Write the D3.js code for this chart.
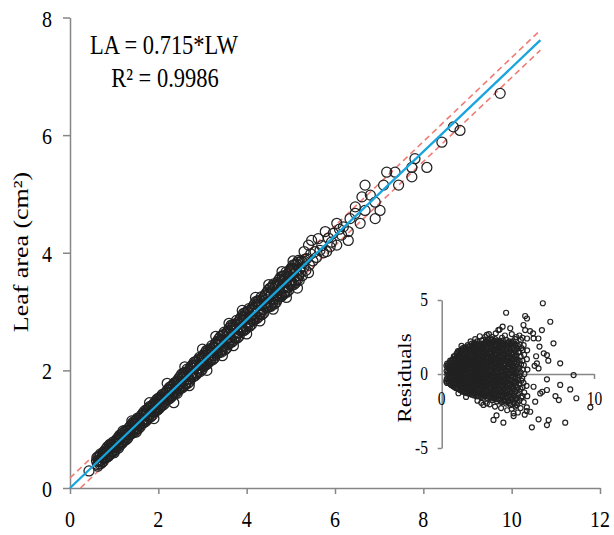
<!DOCTYPE html>
<html><head><meta charset="utf-8">
<script src="https://cdn.jsdelivr.net/npm/d3@7"></script>
<style>body{margin:0;background:#fff}svg{display:block}</style>
</head><body>
<svg id="c" width="614" height="535"></svg>
<script>
// ---------- data ----------
const xTicks = [0, 2, 4, 6, 8, 10, 12];
const yTicks = [0, 2, 4, 6, 8];
const fitSlope = 0.715;
const fitEndLW = 10.65;
const bandHalf = 0.17;
const eqText = "LA = 0.715*LW";
const r2Text = "R\u00B2 = 0.9986";
const yLabel = "Leaf area (cm\u00B2)";
const insetXTicks = [0, 10];
const insetYTicks = [-5, 0, 5];
const insetYLabel = "Residuals";

// [LW, LA] – main band, first pass
const leafPointsA = [
[0.43,0.29],
[0.60,0.46],[0.62,0.40],[0.64,0.47],[0.66,0.45],[0.68,0.54],[0.70,0.47],[0.72,0.52],
[0.74,0.51],[0.76,0.58],[0.78,0.51],[0.80,0.59],[0.82,0.58],[0.84,0.63],[0.86,0.58],
[0.88,0.67],[0.90,0.63],[0.92,0.68],[0.94,0.62],[0.96,0.72],[0.98,0.70],[1.00,0.69],
[1.02,0.69],[1.04,0.76],[1.06,0.81],[1.08,0.76],[1.10,0.76],[1.12,0.84],[1.14,0.83],
[1.16,0.87],[1.18,0.79],[1.20,0.87],[1.22,0.85],[1.24,0.95],[1.26,0.86],[1.28,0.92],
[1.30,0.91],[1.32,0.99],[1.34,0.90],[1.36,0.99],[1.38,0.98],[1.40,1.04],[1.42,0.97],
[1.44,1.09],[1.46,1.02],[1.48,1.09],[1.50,1.00],[1.52,1.13],[1.54,1.10],[1.56,1.07],
[1.58,1.07],[1.60,1.17],[1.62,1.23],[1.64,1.15],[1.66,1.15],[1.68,1.26],[1.70,1.23],
[1.72,1.27],[1.74,1.18],[1.76,1.28],[1.78,1.24],[1.80,1.36],[1.82,1.26],[1.84,1.32],
[1.86,1.30],[1.88,1.40],[1.90,1.29],[1.92,1.40],[1.94,1.37],[1.96,1.44],[1.98,1.36],
[2.00,1.49],[2.02,1.42],[2.04,1.49],[2.06,1.40],[2.08,1.53],[2.10,1.50],[2.12,1.47],
[2.14,1.47],[2.16,1.57],[2.18,1.63],[2.20,1.55],[2.22,1.55],[2.24,1.66],[2.26,1.63],
[2.28,1.68],[2.30,1.57],[2.32,1.68],[2.34,1.63],[2.36,1.78],[2.38,1.65],[2.40,1.72],
[2.42,1.69],[2.44,1.82],[2.46,1.66],[2.48,1.81],[2.50,1.77],[2.52,1.86],[2.54,1.74],
[2.56,1.91],[2.58,1.82],[2.60,1.90],[2.62,1.77],[2.64,1.95],[2.66,1.90],[2.68,1.86],
[2.70,1.85],[2.72,1.98],[2.74,2.06],[2.76,1.95],[2.78,1.93],[2.80,2.08],[2.82,2.04],
[2.84,2.09],[2.86,1.96],[2.88,2.08],[2.90,2.03],[2.92,2.19],[2.94,2.04],[2.96,2.12],
[2.98,2.09],[3.00,2.22],[3.02,2.06],[3.04,2.21],[3.06,2.17],[3.08,2.26],[3.10,2.14],
[3.12,2.31],[3.14,2.22],[3.16,2.30],[3.18,2.17],[3.20,2.35],[3.22,2.30],[3.24,2.26],
[3.26,2.25],[3.28,2.38],[3.30,2.46],[3.32,2.35],[3.34,2.33],[3.36,2.48],[3.38,2.44],
[3.40,2.51],[3.42,2.34],[3.44,2.49],[3.46,2.42],[3.48,2.61],[3.50,2.42],[3.52,2.52],
[3.54,2.48],[3.56,2.64],[3.58,2.44],[3.60,2.62],[3.62,2.56],[3.64,2.68],[3.66,2.52],
[3.68,2.73],[3.70,2.61],[3.72,2.71],[3.74,2.55],[3.76,2.77],[3.78,2.70],[3.80,2.64],
[3.82,2.63],[3.84,2.79],[3.86,2.88],[3.88,2.74],[3.90,2.71],[3.92,2.90],[3.94,2.85],
[3.96,2.91],[3.98,2.74],[4.00,2.89],[4.02,2.82],[4.04,3.01],[4.06,2.82],[4.08,2.92],
[4.10,2.88],[4.12,3.04],[4.14,2.84],[4.16,3.02],[4.18,2.96],[4.20,3.08],[4.22,2.92],
[4.24,3.13],[4.26,3.01],[4.28,3.11],[4.30,2.95],[4.32,3.17],[4.34,3.10],[4.36,3.04],
[4.38,3.03],[4.40,3.19],[4.42,3.28],[4.44,3.14],[4.46,3.11],[4.48,3.30],[4.50,3.25],
[4.52,3.32],[4.54,3.12],[4.56,3.29],[4.58,3.21],[4.60,3.44],[4.62,3.21],[4.64,3.32],
[4.66,3.27],[4.68,3.46],[4.70,3.21],[4.72,3.43],[4.74,3.36],[4.76,3.49],[4.78,3.30],
[4.80,3.55],[4.82,3.41],[4.84,3.52],[4.86,3.32],[4.88,3.58],[4.90,3.50],[4.92,3.43],
[4.94,3.41],[4.96,3.60],[4.98,3.71],[5.00,3.54],[5.02,3.50],[5.04,3.72],[5.06,3.65],
[5.08,3.72],[5.10,3.52],[5.12,3.69],[5.14,3.61],[5.16,3.84],[5.18,3.61],[5.20,3.72],
[5.22,3.67],[5.24,3.86],[5.26,3.61],[5.28,3.83],[5.30,3.76],[5.32,3.89],[5.34,3.70]
];
// [LW, LA] – main band, outer rows
const leafPointsB = [
[0.61,0.52],[0.63,0.37],[0.65,0.54],[0.67,0.41],[0.69,0.58],[0.71,0.42],[0.73,0.58],
[0.75,0.45],[0.77,0.62],[0.79,0.51],[0.81,0.66],[0.83,0.52],[0.85,0.70],[0.87,0.54],
[0.89,0.72],[0.91,0.57],[0.93,0.74],[0.95,0.61],[0.97,0.78],[0.99,0.62],[1.01,0.78],
[1.03,0.65],[1.05,0.82],[1.07,0.71],[1.09,0.86],[1.11,0.72],[1.13,0.90],[1.15,0.74],
[1.17,0.92],[1.19,0.77],[1.21,0.94],[1.23,0.81],[1.25,0.98],[1.27,0.82],[1.29,0.98],
[1.31,0.85],[1.33,1.02],[1.35,0.91],[1.37,1.06],[1.39,0.92],[1.41,1.10],[1.43,0.94],
[1.45,1.13],[1.47,0.96],[1.49,1.15],[1.51,1.00],[1.53,1.19],[1.55,1.01],[1.57,1.19],
[1.59,1.04],[1.61,1.23],[1.63,1.10],[1.65,1.27],[1.67,1.11],[1.69,1.31],[1.71,1.13],
[1.73,1.33],[1.75,1.16],[1.77,1.35],[1.79,1.20],[1.81,1.39],[1.83,1.21],[1.85,1.39],
[1.87,1.24],[1.89,1.43],[1.91,1.30],[1.93,1.47],[1.95,1.31],[1.97,1.51],[1.99,1.33],
[2.01,1.53],[2.03,1.36],[2.05,1.55],[2.07,1.40],[2.09,1.59],[2.11,1.41],[2.13,1.59],
[2.15,1.44],[2.17,1.63],[2.19,1.50],[2.21,1.67],[2.23,1.51],[2.25,1.71],[2.27,1.53],
[2.29,1.73],[2.31,1.56],[2.33,1.75],[2.35,1.60],[2.37,1.79],[2.39,1.61],[2.41,1.79],
[2.43,1.61],[2.45,1.85],[2.47,1.69],[2.49,1.89],[2.51,1.69],[2.53,1.94],[2.55,1.71],
[2.57,1.95],[2.59,1.74],[2.61,1.97],[2.63,1.78],[2.65,2.02],[2.67,1.78],[2.69,2.00],
[2.71,1.81],[2.73,2.05],[2.75,1.89],[2.77,2.09],[2.79,1.89],[2.81,2.14],[2.83,1.91],
[2.85,2.15],[2.87,1.94],[2.89,2.17],[2.91,1.98],[2.93,2.22],[2.95,1.98],[2.97,2.20],
[2.99,2.01],[3.01,2.25],[3.03,2.09],[3.05,2.29],[3.07,2.09],[3.09,2.34],[3.11,2.11],
[3.13,2.35],[3.15,2.14],[3.17,2.37],[3.19,2.18],[3.21,2.42],[3.23,2.18],[3.25,2.40],
[3.27,2.21],[3.29,2.45],[3.31,2.29],[3.33,2.49],[3.35,2.29],[3.37,2.54],[3.39,2.31],
[3.41,2.58],[3.43,2.31],[3.45,2.59],[3.47,2.36],[3.49,2.65],[3.51,2.35],[3.53,2.62],
[3.55,2.38],[3.57,2.67],[3.59,2.47],[3.61,2.72],[3.63,2.47],[3.65,2.77],[3.67,2.48],
[3.69,2.78],[3.71,2.51],[3.73,2.79],[3.75,2.56],[3.77,2.85],[3.79,2.55],[3.81,2.82],
[3.83,2.58],[3.85,2.87],[3.87,2.67],[3.89,2.92],[3.91,2.67],[3.93,2.97],[3.95,2.68],
[3.97,2.98],[3.99,2.71],[4.01,2.99],[4.03,2.76],[4.05,3.05],[4.07,2.75],[4.09,3.02],
[4.11,2.78],[4.13,3.07],[4.15,2.87],[4.17,3.12],[4.19,2.87],[4.21,3.17],[4.23,2.88],
[4.25,3.18],[4.27,2.91],[4.29,3.19],[4.31,2.96],[4.33,3.25],[4.35,2.95],[4.37,3.22],
[4.39,2.98],[4.41,3.27],[4.43,3.07],[4.45,3.32],[4.47,3.07],[4.49,3.37],[4.51,3.08],
[4.53,3.40],[4.55,3.09],[4.57,3.41],[4.59,3.14],[4.61,3.47],[4.63,3.13],[4.65,3.44],
[4.67,3.16],[4.69,3.49],[4.71,3.25],[4.73,3.54],[4.75,3.25],[4.77,3.59],[4.79,3.26],
[4.81,3.60],[4.83,3.29],[4.85,3.61],[4.87,3.34],[4.89,3.67],[4.91,3.33],[4.93,3.64],
[4.95,3.36],[4.97,3.69],[4.99,3.45],[5.01,3.74],[5.03,3.45],[5.05,3.79],[5.07,3.46],
[5.09,3.80],[5.11,3.49],[5.13,3.81],[5.15,3.54],[5.17,3.87],[5.19,3.53],[5.21,3.84]
];
// [LW, LA] – band-edge outliers
const leafPointsEdge = [
[0.90,0.74],[1.00,0.60],[1.20,0.97],[1.10,0.68],[1.40,1.14],[1.50,0.95],[1.80,1.45],[1.90,1.18],
[2.20,1.78],[2.35,1.45],[2.60,2.06],[2.70,1.74],[3.00,2.36],[3.10,2.00],[3.30,2.58],[3.45,2.25],
[3.60,2.80],[3.70,2.42],[3.90,3.02],[4.00,2.62],[4.20,3.24],[4.30,2.84],[4.50,3.46],[4.60,3.04],
[4.80,3.68],[4.90,3.24],[5.05,3.86],[5.15,3.40],[5.30,4.02],[5.40,3.66]
];
// [LW, LA] – upper, sparse part
const leafPointsC = [
[5.36,3.90],[5.42,3.79],[5.45,3.98],[5.50,3.86],[5.55,4.02],[5.58,3.92],[5.70,4.12],
[5.74,4.00],[5.85,4.25],[5.92,4.18],[6.10,4.40],[6.15,4.30],
[7.81,5.60],[7.74,5.45],[8.08,5.45],[7.17,5.37],[7.36,5.37],[7.44,5.15],[7.74,5.29],
[7.10,5.15],[6.68,5.15],[6.61,4.95],[6.80,4.98],[6.91,4.86],[6.46,4.78],[6.46,4.67],
[7.02,4.72],[6.91,4.58],[6.68,4.72],[6.34,4.58],[6.57,4.50],[6.19,4.44],[6.04,4.50],
[5.78,4.36],[5.96,4.33],[6.30,4.36],[5.62,4.24],[5.47,4.21],[5.40,4.13],[5.66,4.04],
[6.30,4.21],[6.04,4.13],[5.89,4.10],[5.81,4.02],
[9.74,6.71],[8.68,6.14],[8.83,6.08],[8.42,5.88]
];

// [LW, residual]
const residualPointsA = [
[0.33,-0.35],[0.37,-0.05],[0.32,0.2],[0.38,0.45],[0.30,-0.5],[0.31,0.55],[0.36,0.7],[0.35,-0.6],
[0.48,-0.6],[0.52,-0.3],[0.47,0.0],[0.53,0.25],[0.49,0.5],[0.51,0.75],
[0.63,-0.75],[0.67,-0.5],[0.62,-0.2],[0.68,0.05],[0.64,0.3],[0.66,0.55],[0.63,0.85],
[0.78,-0.85],[0.82,-0.6],[0.77,-0.35],[0.83,-0.1],[0.79,0.15],[0.81,0.4],[0.78,0.65],[0.84,0.95],[0.8,1.2],
[0.93,-0.95],[0.97,-0.7],[0.92,-0.45],[0.98,-0.2],[0.94,0.05],[0.96,0.3],[0.93,0.55],[0.99,0.8],[0.95,1.05],[0.97,1.35],
[1.08,-1.0],[1.12,-0.75],[1.07,-0.5],[1.13,-0.25],[1.09,0.0],[1.11,0.25],[1.08,0.5],[1.14,0.75],[1.1,1.0],[1.12,1.3],[1.07,1.55],
[1.23,-1.1],[1.27,-0.85],[1.22,-0.6],[1.28,-0.35],[1.24,-0.1],[1.26,0.15],[1.23,0.4],[1.29,0.65],[1.25,0.9],[1.27,1.15],[1.22,1.4],[1.28,1.65],
[1.38,-1.2],[1.42,-0.95],[1.37,-0.7],[1.43,-0.45],[1.39,-0.2],[1.41,0.05],[1.38,0.3],[1.44,0.55],[1.4,0.8],[1.42,1.05],[1.37,1.3],[1.43,1.55],[1.39,1.75],
[1.53,-1.25],[1.57,-1.0],[1.52,-0.75],[1.58,-0.5],[1.54,-0.25],[1.56,0.0],[1.53,0.25],[1.59,0.5],[1.55,0.75],[1.57,1.0],[1.52,1.25],[1.58,1.5],[1.54,1.8],
[1.68,-1.3],[1.72,-1.05],[1.67,-0.8],[1.73,-0.55],[1.69,-0.3],[1.71,-0.05],[1.68,0.2],[1.74,0.45],[1.7,0.7],[1.72,0.95],[1.67,1.2],[1.73,1.45],[1.69,1.7],[1.71,1.95],
[1.83,-1.35],[1.87,-1.1],[1.82,-0.85],[1.88,-0.6],[1.84,-0.35],[1.86,-0.1],[1.83,0.15],[1.89,0.4],[1.85,0.65],[1.87,0.9],[1.82,1.15],[1.88,1.4],[1.84,1.65],[1.86,1.9],
[1.98,-1.4],[2.02,-1.15],[1.97,-0.9],[2.03,-0.65],[1.99,-0.4],[2.01,-0.15],[1.98,0.1],[2.04,0.35],[2.0,0.6],[2.02,0.85],[1.97,1.1],[2.03,1.35],[1.99,1.6],[2.01,1.85],[1.98,2.05],
[2.13,-1.45],[2.17,-1.2],[2.12,-0.95],[2.18,-0.7],[2.14,-0.45],[2.16,-0.2],[2.13,0.05],[2.19,0.3],[2.15,0.55],[2.17,0.8],[2.12,1.05],[2.18,1.3],[2.14,1.55],[2.16,1.8],[2.13,2.1],
[2.28,-1.5],[2.32,-1.25],[2.27,-1.0],[2.33,-0.75],[2.29,-0.5],[2.31,-0.25],[2.28,0.0],[2.34,0.25],[2.3,0.5],[2.32,0.75],[2.27,1.0],[2.33,1.25],[2.29,1.5],[2.31,1.75],[2.28,2.0],[2.33,2.2],
[2.43,-1.5],[2.47,-1.25],[2.42,-1.0],[2.48,-0.75],[2.44,-0.5],[2.46,-0.25],[2.43,0.0],[2.49,0.25],[2.45,0.5],[2.47,0.75],[2.42,1.0],[2.48,1.25],[2.44,1.5],[2.46,1.8],[2.43,2.05],
[2.58,-1.55],[2.62,-1.3],[2.57,-1.05],[2.63,-0.8],[2.59,-0.55],[2.61,-0.3],[2.58,-0.05],[2.64,0.2],[2.6,0.45],[2.62,0.7],[2.57,0.95],[2.63,1.2],[2.59,1.45],[2.61,1.7],[2.58,1.95],[2.63,2.25],
[2.73,-1.6],[2.77,-1.3],[2.72,-1.0],[2.78,-0.7],[2.74,-0.45],[2.76,-0.15],[2.73,0.1],[2.79,0.4],[2.75,0.65],[2.77,0.95],[2.72,1.2],[2.78,1.5],[2.74,1.75],[2.76,2.05],[2.73,2.3],
[2.88,-1.4],[2.92,-1.1],[2.87,-0.8],[2.93,-0.55],[2.89,-0.25],[2.91,0.0],[2.88,0.3],[2.94,0.55],[2.9,0.85],[2.92,1.1],[2.87,1.4],[2.93,1.65],[2.89,1.95],[2.91,2.2],
[3.03,-1.65],[3.07,-1.35],[3.02,-1.05],[3.08,-0.75],[3.04,-0.45],[3.06,-0.15],[3.03,0.15],[3.09,0.45],[3.05,0.75],[3.07,1.05],[3.02,1.35],[3.08,1.65],[3.04,1.95],[3.06,2.3],
[3.18,-1.5],[3.22,-1.2],[3.17,-0.9],[3.23,-0.6],[3.19,-0.3],[3.21,0.0],[3.18,0.3],[3.24,0.6],[3.2,0.9],[3.22,1.2],[3.17,1.5],[3.23,1.8],[3.19,2.1],[3.21,2.4],
[3.33,-1.75],[3.37,-1.45],[3.32,-1.15],[3.38,-0.85],[3.34,-0.55],[3.36,-0.25],[3.33,0.05],[3.39,0.35],[3.35,0.65],[3.37,0.95],[3.32,1.25],[3.38,1.55],[3.34,1.85],[3.36,2.15],
[3.48,-1.6],[3.52,-1.3],[3.47,-1.0],[3.53,-0.7],[3.49,-0.4],[3.51,-0.1],[3.48,0.2],[3.54,0.5],[3.5,0.8],[3.52,1.1],[3.47,1.4],[3.53,1.7],[3.49,2.0],[3.51,2.35],
[3.63,-1.85],[3.67,-1.5],[3.62,-1.15],[3.68,-0.85],[3.64,-0.55],[3.66,-0.25],[3.63,0.05],[3.69,0.4],[3.65,0.7],[3.67,1.0],[3.62,1.3],[3.68,1.6],[3.64,1.9],[3.66,2.2],
[3.78,-1.7],[3.82,-1.35],[3.77,-1.0],[3.83,-0.7],[3.79,-0.35],[3.81,-0.05],[3.78,0.3],[3.84,0.6],[3.8,0.95],[3.82,1.25],[3.77,1.6],[3.83,1.9],[3.79,2.25],
[3.93,-1.9],[3.97,-1.55],[3.92,-1.2],[3.98,-0.85],[3.94,-0.5],[3.96,-0.2],[3.93,0.15],[3.99,0.45],[3.95,0.8],[3.97,1.1],[3.92,1.45],[3.98,1.75],[3.94,2.1],[3.96,2.45],
[4.08,-1.75],[4.12,-1.4],[4.07,-1.05],[4.13,-0.7],[4.09,-0.35],[4.11,0.0],[4.08,0.35],[4.14,0.7],[4.1,1.05],[4.12,1.4],[4.07,1.75],[4.13,2.05],
[4.23,-2.0],[4.27,-1.6],[4.22,-1.25],[4.28,-0.9],[4.24,-0.55],[4.26,-0.2],[4.23,0.15],[4.29,0.5],[4.25,0.85],[4.27,1.2],[4.22,1.55],[4.28,1.9],[4.24,2.3],
[4.38,-1.8],[4.42,-1.45],[4.37,-1.1],[4.43,-0.7],[4.39,-0.35],[4.41,0.05],[4.38,0.4],[4.44,0.75],[4.4,1.1],[4.42,1.5],[4.37,1.85],[4.43,2.2],
[4.53,-2.1],[4.57,-1.65],[4.52,-1.25],[4.58,-0.85],[4.54,-0.45],[4.56,-0.1],[4.53,0.3],[4.59,0.7],[4.55,1.05],[4.57,1.45],[4.52,1.8],[4.58,2.15],
[4.68,-1.9],[4.72,-1.45],[4.67,-1.0],[4.73,-0.6],[4.69,-0.2],[4.71,0.2],[4.68,0.6],[4.74,1.0],[4.7,1.4],[4.72,1.8],[4.67,2.2],
[4.83,-2.2],[4.87,-1.7],[4.82,-1.2],[4.88,-0.75],[4.84,-0.3],[4.86,0.15],[4.83,0.55],[4.89,1.0],[4.85,1.45],[4.87,1.9],[4.82,2.35],
[4.98,-1.95],[5.02,-1.4],[4.97,-0.9],[5.03,-0.4],[4.99,0.05],[5.01,0.5],[4.98,0.95],[5.04,1.45],[5.0,1.9],
[5.18,-2.3],[5.22,-1.6],[5.17,-1.0],[5.23,-0.45],[5.19,0.1],[5.21,0.65],[5.18,1.2],[5.24,1.75],[5.2,2.3],
[5.38,-1.9],[5.42,-1.25],[5.37,-0.6],[5.43,0.0],[5.39,0.6],[5.41,1.3],[5.38,1.95],
[5.58,-2.5],[5.62,-1.5],[5.57,-0.8],[5.63,0.3],[5.59,1.0],[5.61,1.6]
];
// [LW, residual] – in-between columns of the dense core
const residualPointsB = [
[0.42,-0.45],[0.43,-0.2],[0.41,0.1],[0.44,0.35],[0.42,0.6],
[0.57,-0.7],[0.58,-0.45],[0.56,-0.15],[0.59,0.1],[0.57,0.4],[0.58,0.65],[0.56,0.9],
[0.72,-0.8],[0.73,-0.55],[0.71,-0.25],[0.74,0.0],[0.72,0.25],[0.73,0.5],[0.71,0.75],[0.74,1.0],
[0.87,-0.9],[0.88,-0.6],[0.86,-0.3],[0.89,-0.05],[0.87,0.2],[0.88,0.45],[0.86,0.7],[0.89,0.95],[0.87,1.2],
[1.02,-0.95],[1.03,-0.65],[1.01,-0.35],[1.04,-0.1],[1.02,0.15],[1.03,0.4],[1.01,0.65],[1.04,0.9],[1.02,1.2],[1.03,1.45],
[1.17,-1.05],[1.18,-0.75],[1.16,-0.45],[1.19,-0.2],[1.17,0.05],[1.18,0.3],[1.16,0.55],[1.19,0.8],[1.17,1.05],[1.18,1.3],[1.16,1.55],
[1.32,-1.1],[1.33,-0.8],[1.31,-0.5],[1.34,-0.25],[1.32,0.0],[1.33,0.25],[1.31,0.5],[1.34,0.75],[1.32,1.0],[1.33,1.3],[1.31,1.55],
[1.47,-1.15],[1.48,-0.85],[1.46,-0.55],[1.49,-0.3],[1.47,-0.05],[1.48,0.2],[1.46,0.45],[1.49,0.7],[1.47,0.95],[1.48,1.2],[1.46,1.45],[1.49,1.7],
[1.62,-1.2],[1.63,-0.9],[1.61,-0.6],[1.64,-0.35],[1.62,-0.1],[1.63,0.15],[1.61,0.4],[1.64,0.65],[1.62,0.9],[1.63,1.15],[1.61,1.4],[1.64,1.65],
[1.77,-1.25],[1.78,-0.95],[1.76,-0.65],[1.79,-0.4],[1.77,-0.15],[1.78,0.1],[1.76,0.35],[1.79,0.6],[1.77,0.85],[1.78,1.1],[1.76,1.35],[1.79,1.6],[1.77,1.85],
[1.92,-1.3],[1.93,-1.0],[1.91,-0.7],[1.94,-0.45],[1.92,-0.2],[1.93,0.05],[1.91,0.3],[1.94,0.55],[1.92,0.8],[1.93,1.05],[1.91,1.3],[1.94,1.55],[1.92,1.8],
[2.07,-1.3],[2.08,-1.0],[2.06,-0.75],[2.09,-0.5],[2.07,-0.25],[2.08,0.0],[2.06,0.25],[2.09,0.5],[2.07,0.75],[2.08,1.0],[2.06,1.25],[2.09,1.5],[2.07,1.75],[2.08,1.95],
[2.22,-1.35],[2.23,-1.05],[2.21,-0.8],[2.24,-0.55],[2.22,-0.3],[2.23,-0.05],[2.21,0.2],[2.24,0.45],[2.22,0.7],[2.23,0.95],[2.21,1.2],[2.24,1.45],[2.22,1.7],[2.23,1.95],
[2.37,-1.4],[2.38,-1.1],[2.36,-0.85],[2.39,-0.6],[2.37,-0.35],[2.38,-0.1],[2.36,0.15],[2.39,0.4],[2.37,0.65],[2.38,0.9],[2.36,1.15],[2.39,1.4],[2.37,1.65],[2.38,1.9],
[2.52,-1.4],[2.53,-1.1],[2.51,-0.85],[2.54,-0.6],[2.52,-0.35],[2.53,-0.1],[2.51,0.15],[2.54,0.4],[2.52,0.65],[2.53,0.9],[2.51,1.15],[2.54,1.4],[2.52,1.65],[2.53,1.95],
[2.67,-1.45],[2.68,-1.15],[2.66,-0.9],[2.69,-0.65],[2.67,-0.4],[2.68,-0.15],[2.66,0.1],[2.69,0.35],[2.67,0.6],[2.68,0.85],[2.66,1.1],[2.69,1.35],[2.67,1.6],[2.68,1.9],
[2.82,-1.5],[2.83,-1.2],[2.81,-0.9],[2.84,-0.6],[2.82,-0.3],[2.83,-0.05],[2.81,0.25],[2.84,0.5],[2.82,0.75],[2.83,1.0],[2.81,1.3],[2.84,1.55],[2.82,1.85],[2.83,2.1],
[2.97,-1.5],[2.98,-1.2],[2.96,-0.9],[2.99,-0.6],[2.97,-0.3],[2.98,0.0],[2.96,0.3],[2.99,0.6],[2.97,0.9],[2.98,1.2],[2.96,1.5],[2.99,1.8],[2.97,2.1],
[3.12,-1.55],[3.13,-1.25],[3.11,-0.95],[3.14,-0.65],[3.12,-0.35],[3.13,-0.05],[3.11,0.25],[3.14,0.55],[3.12,0.85],[3.13,1.15],[3.11,1.45],[3.14,1.75],[3.12,2.05],
[3.27,-1.6],[3.28,-1.3],[3.26,-1.0],[3.29,-0.7],[3.27,-0.4],[3.28,-0.1],[3.26,0.2],[3.29,0.5],[3.27,0.8],[3.28,1.1],[3.26,1.4],[3.29,1.7],[3.27,2.0],[3.28,2.3],
[3.42,-1.65],[3.43,-1.35],[3.41,-1.05],[3.44,-0.75],[3.42,-0.45],[3.43,-0.15],[3.41,0.15],[3.44,0.45],[3.42,0.75],[3.43,1.05],[3.41,1.35],[3.44,1.65],[3.42,1.95],[3.43,2.25],
[3.57,-1.7],[3.58,-1.4],[3.56,-1.1],[3.59,-0.8],[3.57,-0.5],[3.58,-0.2],[3.56,0.1],[3.59,0.4],[3.57,0.7],[3.58,1.0],[3.56,1.3],[3.59,1.6],[3.57,1.9],[3.58,2.2],
[3.72,-1.7],[3.73,-1.35],[3.71,-1.0],[3.74,-0.7],[3.72,-0.4],[3.73,-0.1],[3.71,0.2],[3.74,0.55],[3.72,0.85],[3.73,1.15],[3.71,1.45],[3.74,1.75],[3.72,2.05],
[3.87,-1.8],[3.88,-1.45],[3.86,-1.1],[3.89,-0.8],[3.87,-0.45],[3.88,-0.15],[3.86,0.2],[3.89,0.5],[3.87,0.85],[3.88,1.15],[3.86,1.5],[3.89,1.8],[3.87,2.15],
[4.02,-1.8],[4.03,-1.45],[4.01,-1.1],[4.04,-0.75],[4.02,-0.4],[4.03,-0.1],[4.01,0.25],[4.04,0.6],[4.02,0.9],[4.03,1.25],[4.01,1.6],[4.04,1.9],[4.02,2.25],
[4.17,-1.85],[4.18,-1.5],[4.16,-1.15],[4.19,-0.8],[4.17,-0.45],[4.18,-0.1],[4.16,0.25],[4.19,0.6],[4.17,0.95],[4.18,1.3],[4.16,1.65],[4.19,2.0],
[4.32,-1.9],[4.33,-1.5],[4.31,-1.1],[4.34,-0.75],[4.32,-0.35],[4.33,0.0],[4.31,0.35],[4.34,0.7],[4.32,1.05],[4.33,1.4],[4.31,1.75],[4.34,2.1],
[4.47,-1.95],[4.48,-1.55],[4.46,-1.15],[4.49,-0.75],[4.47,-0.35],[4.48,0.05],[4.46,0.45],[4.49,0.85],[4.47,1.25],[4.48,1.65],[4.46,2.0],
[4.62,-1.75],[4.63,-1.3],[4.61,-0.85],[4.64,-0.4],[4.62,0.05],[4.63,0.5],[4.61,0.9],[4.64,1.3],[4.62,1.7],[4.63,2.05],
[4.77,-2.0],[4.78,-1.5],[4.76,-1.0],[4.79,-0.5],[4.77,0.0],[4.78,0.4],[4.76,0.8],[4.79,1.2],[4.77,1.6],[4.78,2.0],
[4.92,-1.6],[4.93,-1.05],[4.91,-0.55],[4.94,-0.1],[4.92,0.35],[4.93,0.8],[4.91,1.25],[4.94,1.7],
[5.1,-1.8],[5.11,-1.2],[5.09,-0.65],[5.12,-0.1],[5.1,0.4],[5.11,0.9],[5.09,1.5],[5.12,2.0],
[5.3,-1.5],[5.31,-0.9],[5.29,-0.3],[5.32,0.3],[5.3,0.9],[5.31,1.6]
];
// [LW, residual] – scattered outer points
const residualPointsC = [
[6.64,4.78],[4.23,4.14],[5.48,3.92],[5.6,3.75],[7.13,3.53],[5.37,3.31],[6.58,2.97],[6.03,2.41],
[7.34,2.07],[6.42,1.85],[6.91,1.28],[7.78,0.72],[6.25,0.72],[6.36,0.38],[8.66,-0.07],[6.91,-0.36],
[7.78,-0.74],[8.44,-1.04],[6.03,-0.86],[7.47,-1.49],[7.69,-1.76],[8.84,-1.64],[9.76,-2.25],[6.91,-1.08],
[6.47,-1.31],[6.14,-1.87],[5.81,-2.55],[6.36,-3.06],[7.02,-3.11],[6.91,-3.45],[8.11,-3.29],[5.92,-3.6],
[4.05,-3.29],[4.72,-2.84],[4.93,-2.09],[5.59,-2.25],[3.72,2.97],[4.5,3.09],[2.96,2.64],[5.48,2.97],
[3.4,-3.1],[3.6,-2.8],[6.2,1.2],[6.1,0.55],[6.7,1.4],[7.0,0.9],[6.35,2.4],[6.0,2.75],[5.8,2.9],
[4.0,3.2],[3.8,3.0],[2.85,2.5],[4.9,2.5],[5.6,2.4],[2.74,-2.09],[2.96,-1.98],[4.72,-2.66],[6.6,-1.2],
[2.2,2.35],[2.5,2.55],[3.1,2.7],[3.3,2.5],[3.55,2.75],[4.15,2.6],[4.6,2.7],[5.1,2.6],[5.3,2.45],
[2.35,-1.8],[2.6,-1.95],[3.15,-2.05],[3.5,-2.2],[3.9,-2.3],[4.3,-2.45],[4.6,-2.35],[5.0,-2.6],[5.45,-2.75],
[1.6,-1.55],[1.9,2.2],[1.3,1.9],[1.1,-1.3]
];

const leafPoints = leafPointsA.concat(leafPointsB, leafPointsEdge, leafPointsC);
const residualPoints = residualPointsA.concat(residualPointsB, residualPointsC);

// ---------- drawing ----------
const FONT = "'Liberation Serif','Times New Roman',serif";
const VS = 1.15; // vertical stretch of the original figure's text
const AXIS = "#868686";
const svg = d3.select("#c");

const x = d3.scaleLinear().domain([0, 12]).range([70, 600]);
const y = d3.scaleLinear().domain([0, 8]).range([488, 17.5]);

function label(g, px, py, str, size, anchor, sx, sy, rot) {
  return g.append("text")
    .attr("transform", `translate(${px},${py})` + (rot ? ` rotate(${rot})` : "") + ` scale(${sx},${sy})`)
    .attr("text-anchor", anchor)
    .attr("font-family", FONT)
    .attr("font-size", size)
    .attr("fill", "#000")
    .text(str);
}

// main axes
const gx = svg.append("g").attr("transform", `translate(0,${y(0)})`)
  .call(d3.axisBottom(x).tickValues(xTicks).tickSize(6).tickSizeOuter(0));
const gy = svg.append("g").attr("transform", `translate(${x(0)},0)`)
  .call(d3.axisLeft(y).tickValues(yTicks).tickSize(7).tickSizeOuter(0));
[gx, gy].forEach(g => {
  g.selectAll("text").remove();
  g.select(".domain").attr("stroke", AXIS).attr("stroke-width", 1.5);
  g.selectAll(".tick line").attr("stroke", AXIS).attr("stroke-width", 1.5);
});
xTicks.forEach(v => label(svg, x(v), 527, String(v), 20, "middle", 1, VS));
yTicks.forEach(v => label(svg, 52, y(v) + 9, String(v), 20, "end", 1, VS));
label(svg, 28, 252, yLabel, 22, "middle", 1.18, 1, -90);

// prediction band (dashed), below the points
const seg = d3.line().x(d => x(d[0])).y(d => y(d[1]));
const upper = [[0, bandHalf], [fitEndLW, fitSlope * fitEndLW + bandHalf]];
const lower = [[bandHalf / fitSlope, 0], [fitEndLW, fitSlope * fitEndLW - bandHalf]];
[upper, lower].forEach(s => {
  svg.append("path").attr("d", seg(s))
    .attr("fill", "none").attr("stroke", "#f07b74")
    .attr("stroke-width", 1.6).attr("stroke-dasharray", "6,4");
});

// points
svg.append("g").selectAll("circle").data(leafPoints).join("circle")
  .attr("cx", d => x(d[0])).attr("cy", d => y(d[1])).attr("r", 5)
  .attr("fill", "none").attr("stroke", "#222").attr("stroke-width", 1.25);

// fit line
svg.append("path").attr("d", seg([[0, 0], [fitEndLW, fitSlope * fitEndLW]]))
  .attr("fill", "none").attr("stroke", "#18a4dc").attr("stroke-width", 2.3);

// equation
label(svg, 164, 54, eqText, 22.5, "middle", 1, 1.18);
label(svg, 165, 87, r2Text, 22.5, "middle", 1, 1.18);

// ---------- inset ----------
const ix = d3.scaleLinear().domain([0, 10]).range([441.7, 594]);
const iy = d3.scaleLinear().domain([-5, 5]).range([448, 300]);
const ig = svg.append("g");
const igx = ig.append("g").attr("transform", `translate(0,${iy(0)})`)
  .call(d3.axisBottom(ix).tickValues([10]).tickSize(5).tickSizeOuter(0));
const igy = ig.append("g").attr("transform", `translate(${ix(0)},0)`)
  .call(d3.axisLeft(iy).tickValues(insetYTicks).tickSize(4).tickSizeOuter(0));
[igx, igy].forEach(g => {
  g.selectAll("text").remove();
  g.select(".domain").attr("stroke", AXIS).attr("stroke-width", 1.5);
  g.selectAll(".tick line").attr("stroke", AXIS).attr("stroke-width", 1.5);
});
insetYTicks.forEach(v => label(ig, 428, iy(v) + 6, String(v), 15.5, "end", 1, 1.18));
insetXTicks.forEach(v => label(ig, ix(v) + (v === 10 ? 0.5 : 0), 404.5, String(v), 15.5, "middle", 1, 1.18));
label(ig, 411, 378, insetYLabel, 19.5, "middle", 1.18, 1, -90);

ig.append("g").selectAll("circle").data(residualPoints).join("circle")
  .attr("cx", d => ix(d[0])).attr("cy", d => iy(d[1])).attr("r", 2.5)
  .attr("fill", "none").attr("stroke", "#222").attr("stroke-width", 1.2);
</script>
</body></html>
